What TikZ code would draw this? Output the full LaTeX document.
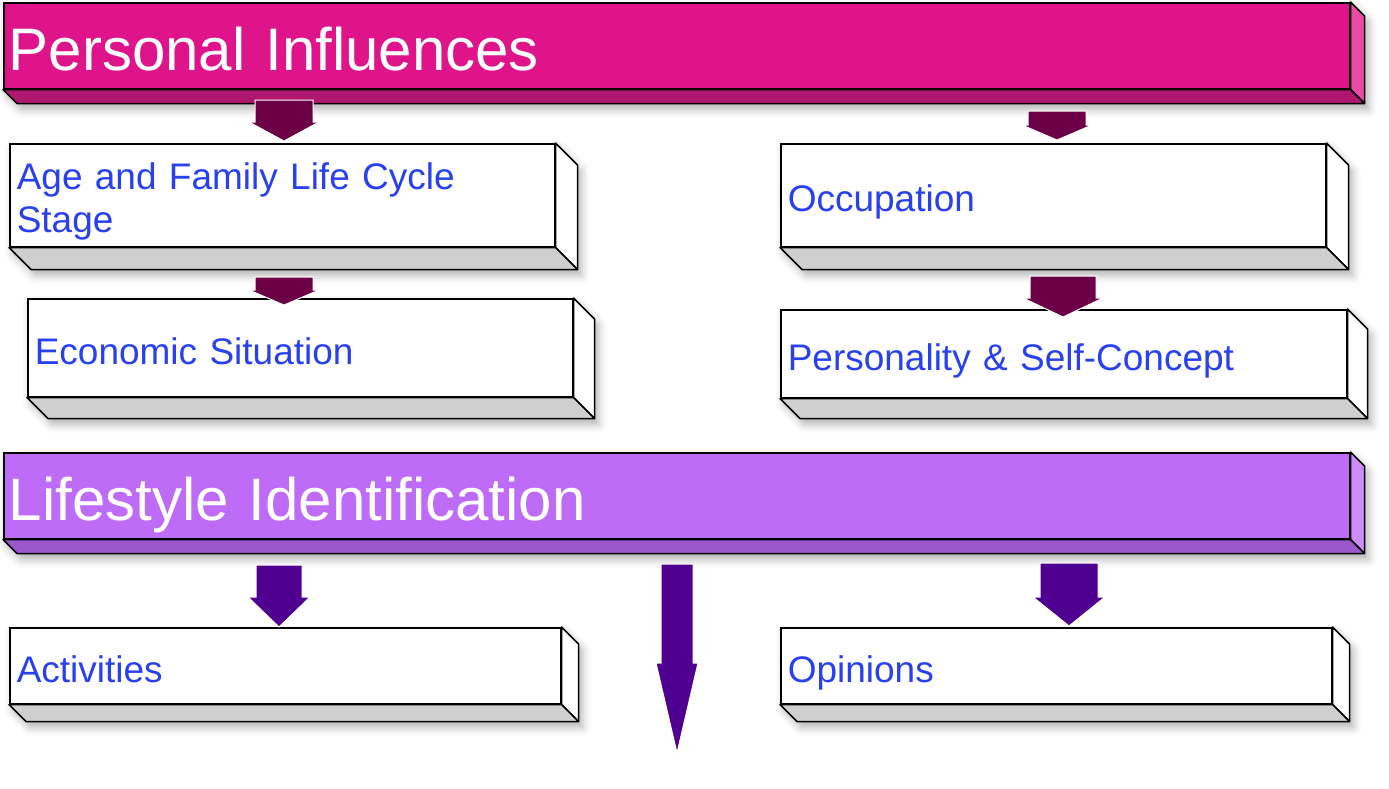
\documentclass[tikz,border=0pt]{standalone}
\usepackage{fontspec}
\setmainfont{Liberation Sans}
\usetikzlibrary{calc,positioning,shadows.blur}
\definecolor{pimag}{RGB}{223,20,138}
\definecolor{pimagdark}{RGB}{176,24,112}
\definecolor{pimaglight}{RGB}{233,75,166}
\definecolor{lilac}{RGB}{190,108,248}
\definecolor{lilacdark}{RGB}{154,88,204}
\definecolor{lilaclight}{RGB}{206,140,250}
\definecolor{facegray}{RGB}{207,207,207}
\definecolor{txtblue}{RGB}{40,64,240}
\definecolor{plum}{RGB}{108,0,70}
\definecolor{indigo}{RGB}{80,0,144}
\pgfdeclarelayer{bg}
\pgfsetlayers{bg,main}

% side and bottom faces of an extruded box: node, depth, bottom colour, side colour
\newcommand{\slabfaces}[4]{%
  \begin{pgfonlayer}{bg}
    \fill[slabshadow] (#1.north west) -- (#1.north east) -- ++(#2,#2) -- ($(#1.south east)+(#2,#2)$)
      -- ($(#1.south west)+(#2,#2)$) -- (#1.south west) -- cycle;
  \end{pgfonlayer}
  \draw[face, fill=#4] (#1.north east) -- ++(#2,#2) -- ($(#1.south east)+(#2,#2)$) -- (#1.south east) -- cycle;
  \draw[face, fill=#3] (#1.south west) -- (#1.south east) -- ++(#2,#2) -- ($(#1.south west)+(#2,#2)$) -- cycle;
}
% block arrow pointing down: x, top, head base, tip, half shaft, half head, colour
\newcommand{\blockarrow}[7]{%
  \filldraw[darrow, fill=#7] (#1-#5,#2) -- (#1+#5,#2) -- (#1+#5,#3) -- (#1+#6,#3) -- (#1,#4) -- (#1-#6,#3) -- (#1-#5,#3) -- cycle;
}

\begin{document}
\begin{tikzpicture}[x=1pt, y=-1pt,
    face/.style={draw=black, line width=1.5pt, line join=round},
    slabshadow/.style={fill=white, blur shadow={shadow xshift=4pt, shadow yshift=-6pt, shadow blur radius=8pt, shadow opacity=30}},
    banner/.style={draw=black, line width=1.5pt, anchor=north west, inner xsep=5pt, inner ysep=0pt, align=left, text=white, font=\fontsize{60}{66}\selectfont, minimum width=1346pt, text width=1336pt, minimum height=86pt, text height=50pt, text depth=0pt},
    tbox/.style={draw=black, fill=white, line width=1.5pt, anchor=north west, inner xsep=7pt, inner ysep=0pt, align=left, text=txtblue, font=\fontsize{37}{43}\selectfont, text height=33pt, text depth=0pt},
    darrow/.style={draw=white, line width=1pt}
  ]
  \useasboundingbox (0,0) rectangle (1389,788);

  % Personal influences
  \node[banner, fill=pimag] (personal) at (3,2) {Personal Influences};
  \slabfaces{personal}{14}{pimagdark}{pimaglight}

  \node[tbox, minimum width=545pt, text width=531pt, minimum height=103pt, text height=32pt, text depth=43pt] (age) at (9,143) {Age and Family Life Cycle\\Stage};
  \slabfaces{age}{22}{facegray}{white}
  \node[tbox, minimum width=545pt, text width=531pt, minimum height=103pt] (occupation) at (780,143) {Occupation};
  \slabfaces{occupation}{22}{facegray}{white}
  \node[tbox, minimum width=545pt, text width=531pt, minimum height=98pt] (economic) at (27,298) {Economic Situation};
  \slabfaces{economic}{21}{facegray}{white}
  \node[tbox, minimum width=566pt, text width=552pt, minimum height=88pt] (personality) at (780,309) {Personality \& Self-Concept};
  \slabfaces{personality}{20}{facegray}{white}

  % Lifestyle
  \node[banner, fill=lilac] (lifestyle) at (3,452) {Lifestyle Identification};
  \slabfaces{lifestyle}{14}{lilacdark}{lilaclight}

  \node[tbox, minimum width=551pt, text width=537pt, minimum height=76pt] (activities) at (9,627) {Activities};
  \slabfaces{activities}{17}{facegray}{white}
  \node[tbox, minimum width=551pt, text width=537pt, minimum height=76pt] (opinions) at (780,627) {Opinions};
  \slabfaces{opinions}{17}{facegray}{white}

  % arrows
  \blockarrow{284}{100}{122}{141}{29}{35}{plum}
  \blockarrow{1057}{111}{125}{140}{29}{35}{plum}
  \blockarrow{284}{277}{290}{305}{29}{35}{plum}
  \blockarrow{1063}{276}{298}{317}{33}{40}{plum}
  \blockarrow{279}{565}{597}{627}{23}{31}{indigo}
  \blockarrow{677}{564}{663}{753}{16}{21}{indigo}
  \blockarrow{1069}{563}{597}{626}{29}{36}{indigo}
\end{tikzpicture}
\end{document}
